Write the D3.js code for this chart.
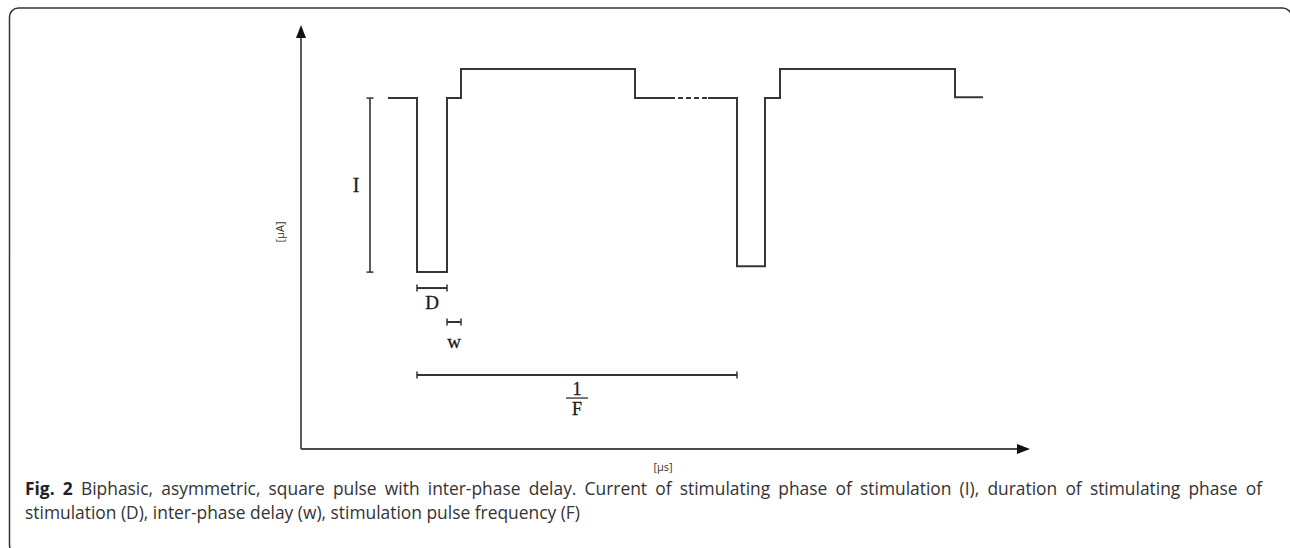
<!DOCTYPE html>
<html>
<head>
<meta charset="utf-8">
<script src="https://cdn.jsdelivr.net/npm/d3@7"></script>
<style>
  body { margin: 0; background: #fff; }
  svg { display: block; }
</style>
</head>
<body>
<div id="chart"></div>
<script>
// waveform in arbitrary units (time, current level); 0 = resting level
const pulse1T = [8.7, 11.6, 11.6, 14.6, 14.6, 16.0, 16.0, 33.4, 33.4, 36.9];
const pulse1I = [0, 0, -6, -6, 0, 0, 1, 1, 0, 0];
const gapT = [36.9, 40.7];
const gapI = [0, 0];
const pulse2T = [40.7, 43.6, 43.6, 46.4, 46.4, 47.9, 47.9, 65.4, 65.4, 68.2];
const pulse2I = [0, 0, -5.8, -5.8, 0, 0, 1, 1, 0.03, 0.03];

// dimension markers
const barI = { t: 6.9, from: 0, to: -6, label: "I" };
const barD = { from: 11.6, to: 14.6, level: -6.55, label: "D" };
const barW = { from: 14.6, to: 16.0, level: -7.72, label: "w" };
const barF = { from: 11.6, to: 43.6, level: -9.55, label: "F" };

const yLabel = "[µA]";
const xLabel = "[µs]";
const captionBold = "Fig. 2";
const captionLine1 = " Biphasic, asymmetric, square pulse with inter-phase delay. Current of stimulating phase of stimulation (I), duration of stimulating phase of";
const captionLine2 = "stimulation (D), inter-phase delay (w), stimulation pulse frequency (F)";

const W = 1290, H = 548;
const x0 = 301, yAxisTop = 25, xAxisY = 449, xAxisEnd = 1030;

const x = d3.scaleLinear().domain([0, 72.9]).range([x0, xAxisEnd]);
const y = d3.scaleLinear().domain([-12.1, 2.52]).range([xAxisY, yAxisTop]);

const svg = d3.select("#chart").append("svg")
  .attr("width", W)
  .attr("height", H);

// frame
svg.append("rect")
  .attr("x", 9.5).attr("y", 8)
  .attr("width", 1282).attr("height", 546)
  .attr("rx", 9)
  .attr("fill", "none")
  .attr("stroke", "#333")
  .attr("stroke-width", 1.5);

// axes with arrows
const axisColor = "#4a4a4a";
svg.append("line")
  .attr("x1", x0).attr("y1", xAxisY)
  .attr("x2", x0).attr("y2", yAxisTop + 10)
  .attr("stroke", axisColor).attr("stroke-width", 1.8);
svg.append("path")
  .attr("d", `M${x0},${yAxisTop} L${x0 - 5},${yAxisTop + 13} L${x0 + 5},${yAxisTop + 13} Z`)
  .attr("fill", "#111");
svg.append("line")
  .attr("x1", x0).attr("y1", xAxisY)
  .attr("x2", xAxisEnd - 10).attr("y2", xAxisY)
  .attr("stroke", axisColor).attr("stroke-width", 1.8);
svg.append("path")
  .attr("d", `M${xAxisEnd},${xAxisY} L${xAxisEnd - 13},${xAxisY - 5} L${xAxisEnd - 13},${xAxisY + 5} Z`)
  .attr("fill", "#111");

svg.append("text")
  .attr("transform", `translate(284, 232) rotate(-90)`)
  .attr("text-anchor", "middle")
  .style("font-family", "'Open Sans', sans-serif")
  .style("font-size", "11px")
  .attr("fill", "#333")
  .text(yLabel);

svg.append("text")
  .attr("x", 663).attr("y", 471)
  .attr("text-anchor", "middle")
  .style("font-family", "'Open Sans', sans-serif")
  .style("font-size", "11px")
  .attr("fill", "#333")
  .text(xLabel);

// waveform
const line = d3.line().x(d => x(d[0])).y(d => y(d[1]));
const wave = "#363636";

svg.append("path")
  .datum(d3.zip(pulse1T, pulse1I))
  .attr("d", line)
  .attr("fill", "none").attr("stroke", wave).attr("stroke-width", 2);
svg.append("path")
  .datum(d3.zip(gapT, gapI))
  .attr("d", line)
  .attr("fill", "none").attr("stroke", wave).attr("stroke-width", 2)
  .attr("stroke-dasharray", "5,3");
svg.append("path")
  .datum(d3.zip(pulse2T, pulse2I))
  .attr("d", line)
  .attr("fill", "none").attr("stroke", wave).attr("stroke-width", 2);

// dimension bars
const dim = svg.append("g").attr("stroke", "#333").attr("stroke-width", 2).attr("fill", "none");
const serif = "'Liberation Serif', 'DejaVu Serif', serif";

function hBar(b) {
  const yy = y(b.level), xa = x(b.from), xb = x(b.to);
  dim.append("line").attr("x1", xa).attr("x2", xb).attr("y1", yy).attr("y2", yy);
  dim.append("line").attr("x1", xa).attr("x2", xa).attr("y1", yy - 3.5).attr("y2", yy + 3.5).attr("stroke-width", 1.5);
  dim.append("line").attr("x1", xb).attr("x2", xb).attr("y1", yy - 3.5).attr("y2", yy + 3.5).attr("stroke-width", 1.5);
}

function serifLabel(px, py, txt, size) {
  return svg.append("text")
    .attr("x", px).attr("y", py)
    .attr("text-anchor", "middle")
    .style("font-family", serif).style("font-size", size + "px")
    .attr("fill", "#1a1a1a")
    .attr("stroke", "#1a1a1a").attr("stroke-width", 0.3)
    .text(txt);
}

// I bar (vertical)
{
  const xx = x(barI.t), ya = y(barI.from), yb = y(barI.to);
  dim.append("line").attr("x1", xx).attr("x2", xx).attr("y1", ya).attr("y2", yb).attr("stroke-width", 1.6);
  dim.append("line").attr("x1", xx - 3.5).attr("x2", xx + 3.5).attr("y1", ya).attr("y2", ya).attr("stroke-width", 1.5);
  dim.append("line").attr("x1", xx - 3.5).attr("x2", xx + 3.5).attr("y1", yb).attr("y2", yb).attr("stroke-width", 1.5);
  serifLabel(xx - 14, (ya + yb) / 2 + 7, barI.label, 20);
}

hBar(barD);
serifLabel((x(barD.from) + x(barD.to)) / 2, y(barD.level) + 21, barD.label, 19);

hBar(barW);
serifLabel((x(barW.from) + x(barW.to)) / 2, y(barW.level) + 26, barW.label, 19);

hBar(barF);
{
  const cx = (x(barF.from) + x(barF.to)) / 2, yy = y(barF.level);
  serifLabel(cx, yy + 20, "1", 18);
  svg.append("line")
    .attr("x1", cx - 11).attr("x2", cx + 11)
    .attr("y1", yy + 23).attr("y2", yy + 23)
    .attr("stroke", "#333").attr("stroke-width", 1.3);
  serifLabel(cx, yy + 40, barF.label, 18);
}

// caption, first line justified to the frame width
const cap = svg.append("g")
  .style("font-family", "'Open Sans', sans-serif")
  .style("font-size", "17.4px")
  .attr("fill", "#333");
const l1 = cap.append("text").attr("x", 25).attr("y", 495);
l1.append("tspan").style("font-weight", "bold").attr("fill", "#222").text(captionBold);
l1.append("tspan").text(captionLine1);
cap.append("text").attr("x", 25).attr("y", 519).text(captionLine2);

const natural = l1.node().getComputedTextLength();
const spaces = (captionBold + captionLine1).split(" ").length - 1;
const target = 1262 - 25;
if (natural < target) l1.style("word-spacing", ((target - natural) / spaces) + "px");
</script>
</body>
</html>
